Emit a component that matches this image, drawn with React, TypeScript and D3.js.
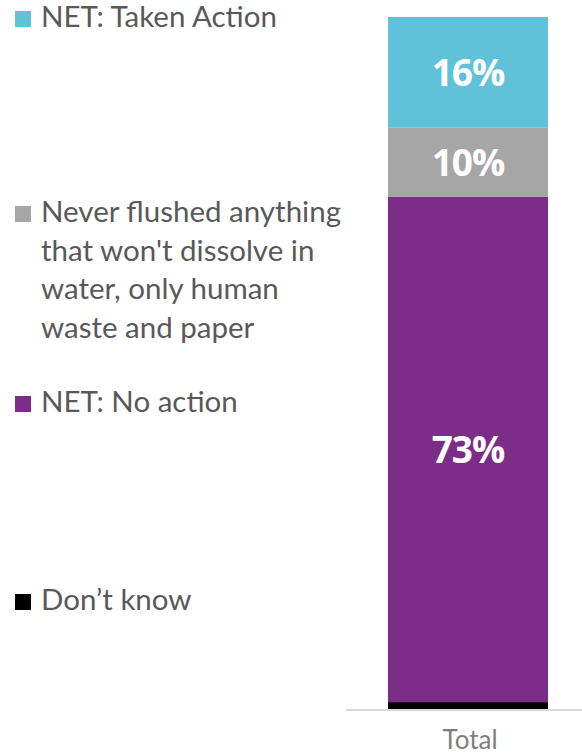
import React from "react";
import * as d3 from "d3";

const categories = ["Total"];
const seriesNames = [
  "Don’t know",
  "NET: No action",
  "Never flushed anything that won't dissolve in water, only human waste and paper",
  "NET: Taken Action",
];
const seriesValues = [1, 73, 10, 16];
const seriesColors = ["#000000", "#7B2D87", "#A6A6A6", "#5FC2D8"];
const showLabel = [false, true, true, true];

const legendItems = [
  { idx: 3, lines: ["NET: Taken Action"], baseline: 27 },
  { idx: 2, lines: ["Never flushed anything", "that won't dissolve in", "water, only human", "waste and paper"], baseline: 222 },
  { idx: 1, lines: ["NET: No action"], baseline: 412 },
  { idx: 0, lines: ["Don’t know"], baseline: 610 },
];

export default function App() {
  const W = 582, H = 753;
  const x = d3.scaleBand().domain(categories).range([346, 590]).padding(0.208);
  const y = d3.scaleLinear().domain([0, 100]).range([709, 17]);

  const stacked: { name: string; color: string; y0: number; y1: number; v: number; label: boolean }[] = [];
  let acc = 0;
  seriesValues.forEach((v, i) => {
    stacked.push({ name: seriesNames[i], color: seriesColors[i], y0: acc, y1: acc + v, v, label: showLabel[i] });
    acc += v;
  });

  const bx = x("Total") as number;
  const bw = x.bandwidth();

  return (
    <svg width={W} height={H} style={{ position: "absolute", left: 0, top: 0 }}>
      <rect width={W} height={H} fill="#ffffff" />
      {stacked.map((s, i) => (
        <rect key={i} x={bx} width={bw} y={y(s.y1)} height={y(s.y0) - y(s.y1)} fill={s.color} />
      ))}
      {stacked.filter(s => s.label).map((s, i) => (
        <text
          key={"l" + i}
          x={bx + bw / 2}
          y={(y(s.y0) + y(s.y1)) / 2}
          dy="0.36em"
          textAnchor="middle"
          fill="#ffffff"
          fontFamily="'Open Sans', sans-serif"
          fontWeight={700}
          fontSize={37}
          letterSpacing={-1}
        >
          {s.v}%
        </text>
      ))}
      <line x1={346} x2={590} y1={710} y2={710} stroke="#D9D9D9" strokeWidth={2} />
      {categories.map(c => (
        <text
          key={c}
          x={(x(c) as number) + bw / 2 + 2}
          y={749}
          textAnchor="middle"
          fill="#7F7F7F"
          fontFamily="Lato, sans-serif"
          fontSize={26}
        >
          {c}
        </text>
      ))}
      {legendItems.map((it, k) => (
        <g key={k}>
          <rect x={15} y={it.baseline - 16} width={16} height={16} fill={seriesColors[it.idx]} />
          {it.lines.map((ln, j) => (
            <text
              key={j}
              x={41}
              y={it.baseline + j * 38.7}
              fill="#595959"
              fontFamily="Lato, sans-serif"
              fontSize={29.5}
            >
              {ln}
            </text>
          ))}
        </g>
      ))}
    </svg>
  );
}
